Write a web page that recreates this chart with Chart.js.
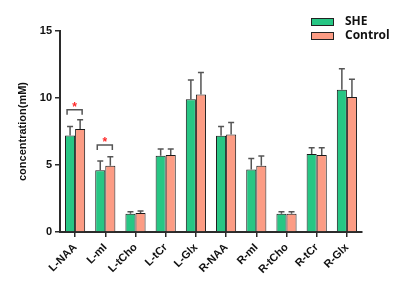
<!DOCTYPE html>
<html>
<head>
<meta charset="utf-8">
<script src="https://cdn.jsdelivr.net/npm/chart.js@4.4.0/dist/chart.umd.min.js"></script>
<style>
  html, body { margin: 0; padding: 0; background: #fff; }
  #wrap { width: 400px; height: 290px; }
</style>
</head>
<body>
<div id="wrap"><canvas id="metabChart" width="400" height="290"></canvas></div>
<script>
const categories = ['L-NAA', 'L-mI', 'L-tCho', 'L-tCr', 'L-Glx', 'R-NAA', 'R-mI', 'R-tCho', 'R-tCr', 'R-Glx'];
const sheMean = [7.21, 4.60, 1.37, 5.69, 9.90, 7.19, 4.67, 1.37, 5.82, 10.62];
const sheSD = [0.67, 0.70, 0.14, 0.50, 1.44, 0.69, 0.82, 0.14, 0.47, 1.57];
const controlMean = [7.69, 4.95, 1.42, 5.74, 10.27, 7.28, 4.95, 1.37, 5.74, 10.07];
const controlSD = [0.69, 0.67, 0.15, 0.45, 1.64, 0.90, 0.72, 0.14, 0.55, 1.32];
const yTicks = [0, 5, 10, 15];
// significance brackets (category, height in mM)
const sigCategories = ['L-NAA', 'L-mI'];
const sigHeights = [9.13, 6.50];

const axisColor = '#2b2b2b';
const tickFont = { family: 'Liberation Sans, Arial, sans-serif', size: 11, weight: 'bold' };

// draws the upward SD whiskers
const errorBars = {
    id: 'errorBars',
    afterDatasetsDraw(chart) {
        const ctx = chart.ctx;
        const y = chart.scales.y;
        const sds = [sheSD, controlSD];
        ctx.save();
        ctx.strokeStyle = '#555';
        ctx.lineWidth = 1.5;
        chart.data.datasets.forEach((ds, i) => {
            chart.getDatasetMeta(i).data.forEach((bar, j) => {
                const top = y.getPixelForValue(ds.data[j] + sds[i][j]);
                ctx.beginPath();
                ctx.moveTo(bar.x, bar.y);
                ctx.lineTo(bar.x, top);
                ctx.moveTo(bar.x - 3, top);
                ctx.lineTo(bar.x + 3, top);
                ctx.stroke();
            });
        });
        ctx.restore();
    }
};

// brackets with red stars
const sigMarks = {
    id: 'sigMarks',
    afterDatasetsDraw(chart) {
        const ctx = chart.ctx;
        const y = chart.scales.y;
        ctx.save();
        sigCategories.forEach((cat, k) => {
            const idx = categories.indexOf(cat);
            const x1 = chart.getDatasetMeta(0).data[idx].x - 3;
            const x2 = chart.getDatasetMeta(1).data[idx].x + 2;
            const py = y.getPixelForValue(sigHeights[k]);
            ctx.strokeStyle = '#555';
            ctx.lineWidth = 1.5;
            ctx.beginPath();
            ctx.moveTo(x1, py + 5);
            ctx.lineTo(x1, py);
            ctx.lineTo(x2, py);
            ctx.lineTo(x2, py + 5);
            ctx.stroke();
            ctx.fillStyle = '#ff2a2a';
            ctx.font = 'bold 12px Liberation Sans, Arial, sans-serif';
            ctx.textAlign = 'center';
            ctx.textBaseline = 'middle';
            ctx.fillText('*', (x1 + x2) / 2, py - 2);
        });
        ctx.restore();
    }
};

// legend in the top right corner
const cornerLegend = {
    id: 'cornerLegend',
    afterDraw(chart) {
        const ctx = chart.ctx;
        ctx.save();
        chart.data.datasets.forEach((ds, i) => {
            const top = 18 + i * 14;
            ctx.fillStyle = ds.backgroundColor;
            ctx.fillRect(311, top, 22, 7);
            ctx.strokeStyle = '#222';
            ctx.lineWidth = 1;
            ctx.strokeRect(311.5, top + 0.5, 22, 7);
            ctx.fillStyle = '#111';
            ctx.font = 'bold 12px Open Sans, sans-serif';
            ctx.textBaseline = 'middle';
            ctx.fillText(ds.label, 345, top + 4);
        });
        ctx.restore();
    }
};

new Chart(document.getElementById('metabChart'), {
    type: 'bar',
    data: {
        labels: categories,
        datasets: [{
            label: 'SHE',
            data: sheMean,
            backgroundColor: '#27c684',
            borderColor: '#1a1a1a',
            borderWidth: 1,
            categoryPercentage: 0.667,
            barPercentage: 1.0
        }, {
            label: 'Control',
            data: controlMean,
            backgroundColor: '#fc9c84',
            borderColor: '#1a1a1a',
            borderWidth: 1,
            categoryPercentage: 0.667,
            barPercentage: 1.0
        }]
    },
    options: {
        responsive: false,
        animation: false,
        layout: { padding: { left: 0, top: 31, right: 38, bottom: 0 } },
        plugins: {
            legend: { display: false },
            tooltip: { enabled: false }
        },
        scales: {
            x: {
                grid: { display: true, drawOnChartArea: false, offset: false, tickLength: 5, color: axisColor, lineWidth: 1.5 },
                border: { color: axisColor, width: 2 },
                ticks: { color: '#111', font: tickFont, minRotation: 45, maxRotation: 45, padding: 4 },
                afterFit: (scale) => { scale.height = 58; }
            },
            y: {
                min: 0,
                max: 15,
                afterBuildTicks: (scale) => { scale.ticks = yTicks.map(v => ({ value: v })); },
                grid: { display: true, drawOnChartArea: false, tickLength: 5, color: axisColor, lineWidth: 1.5 },
                border: { color: axisColor, width: 2 },
                ticks: { color: '#111', font: tickFont, padding: 3 },
                title: {
                    display: true,
                    text: 'concentration(mM)',
                    color: '#111',
                    font: { family: 'Liberation Sans, Arial, sans-serif', size: 11, weight: 'bold' },
                    padding: { top: 16, bottom: 0 }
                },
                afterFit: (scale) => { scale.width = 60; }
            }
        }
    },
    plugins: [errorBars, sigMarks, cornerLegend]
});
</script>
</body>
</html>
